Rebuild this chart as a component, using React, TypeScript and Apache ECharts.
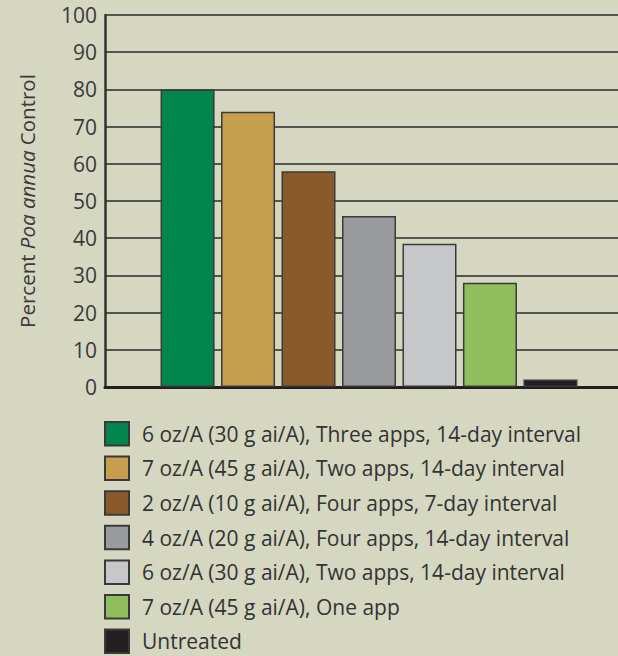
import React, { useEffect, useRef } from "react";
import * as echarts from "echarts";

const seriesNames = [
  "6 oz/A (30 g ai/A), Three apps, 14-day interval",
  "7 oz/A (45 g ai/A), Two apps, 14-day interval",
  "2 oz/A (10 g ai/A), Four apps, 7-day interval",
  "4 oz/A (20 g ai/A), Four apps, 14-day interval",
  "6 oz/A (30 g ai/A), Two apps, 14-day interval",
  "7 oz/A (45 g ai/A), One app",
  "Untreated",
];
const values = [80, 74, 58, 46, 38.5, 28, 2];
const colors = ["#00854f", "#c79d4f", "#8b5a2a", "#9a9b9e", "#c6c7c9", "#90be5c", "#231f20"];
const categories = [""];

export default function App() {
  const ref = useRef<HTMLDivElement>(null);
  useEffect(() => {
    const chart = echarts.init(ref.current!, null, { renderer: "svg" });
    const font = "Open Sans";
    chart.setOption({
      animation: false,
      backgroundColor: "#d5d7c1",
      textStyle: { fontFamily: font },
      grid: { left: 105, right: 0, top: 15, bottom: 269, containLabel: false },
      xAxis: {
        type: "category",
        data: categories,
        axisLine: { show: true, lineStyle: { color: "#231f20", width: 3 } },
        axisTick: { show: false },
        axisLabel: { show: false },
      },
      yAxis: {
        type: "value",
        min: 0,
        max: 100,
        interval: 10,
        name: "{a|Percent }{b|Poa annua}{a| Control}",
        nameLocation: "middle",
        nameGap: 68,
        nameTextStyle: {
          fontSize: 20.5,
          color: "#3a3a3a",
          fontFamily: font,
          rich: {
            a: { fontSize: 20.5, color: "#3a3a3a", fontFamily: font },
            b: { fontSize: 20.5, color: "#3a3a3a", fontFamily: font, fontStyle: "italic" },
          },
        },
        axisLine: { show: true, lineStyle: { color: "#333333", width: 2.5 } },
        axisTick: { show: false },
        axisLabel: { fontSize: 21, color: "#3a3a3a", margin: 8, fontFamily: font },
        splitLine: { show: true, lineStyle: { color: "#2a2a2a", width: 1.5 } },
      },
      legend: {
        orient: "vertical",
        left: 104,
        top: 421,
        height: 300,
        padding: 0,
        itemWidth: 24,
        itemHeight: 23.5,
        itemGap: 9.1,
        icon: "rect",
        textStyle: {
          fontSize: 21,
          color: "#333333",
          fontFamily: font,
          padding: [0, 0, 0, 8],
        },
        data: seriesNames,
      },
      series: seriesNames.map((name, i) => ({
        name,
        type: "bar",
        data: [values[i]],
        barWidth: 54,
        barGap: "12%",
        itemStyle: { color: colors[i], borderColor: "#3a3a3a", borderWidth: 1.5 },
      })),
    });
    return () => chart.dispose();
  }, []);
  return (
    <div style={{ position: "fixed", left: 0, top: 0, width: 618, height: 656, overflow: "hidden" }}>
      <div ref={ref} style={{ width: 633, height: 656 }} />
    </div>
  );
}
